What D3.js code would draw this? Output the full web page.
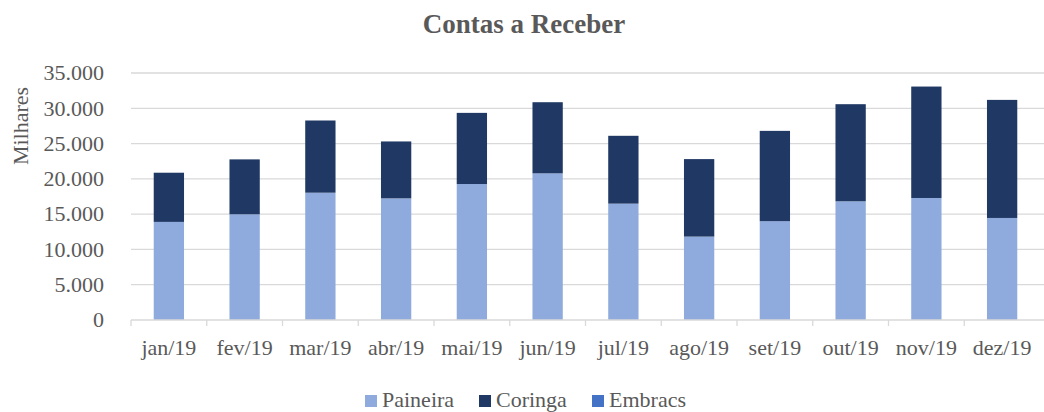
<!DOCTYPE html>
<html>
<head>
<meta charset="utf-8">
<script src="https://cdn.jsdelivr.net/npm/d3@7"></script>
<style>
  body { margin: 0; background: #fff; }
  text { font-family: "Liberation Serif", "DejaVu Serif", serif; fill: #595959; }
</style>
</head>
<body>
<script>
// data (thousands)
var months = ["jan/19", "fev/19", "mar/19", "abr/19", "mai/19", "jun/19",
              "jul/19", "ago/19", "set/19", "out/19", "nov/19", "dez/19"];
var paineira = [13900, 14980, 18040, 17240, 19270, 20780, 16490, 11820, 14000, 16820, 17290, 14460];
var coringa  = [6970, 7780, 10230, 8060, 10080, 10080, 9610, 10980, 12800, 13760, 15790, 16730];
var embracs  = [0, 0, 0, 0, 0, 0, 0, 0, 0, 0, 0, 0];
var yTicks = [0, 5000, 10000, 15000, 20000, 25000, 30000, 35000];

var seriesNames = ["Paineira", "Coringa", "Embracs"];
var colors = ["#8FAADC", "#1F3864", "#4472C4"];

var width = 1044, height = 412;
var margin = {top: 73, right: 4, bottom: 92, left: 131};
var innerW = width - margin.left - margin.right,
    innerH = height - margin.top - margin.bottom;

var table = months.map(function(m, i) {
  return {month: m, Paineira: paineira[i], Coringa: coringa[i], Embracs: embracs[i]};
});
var stacked = d3.stack().keys(seriesNames)(table);

var x = d3.scaleBand().domain(months).range([0, innerW]).paddingInner(0.6).paddingOuter(0.3);
var xTickScale = d3.scaleBand().domain(months).range([0, innerW]);
var y = d3.scaleLinear().domain([0, 35000]).range([innerH, 0]);

var svg = d3.select("body").append("svg")
    .attr("width", width)
    .attr("height", height);

// title
svg.append("text")
    .attr("x", 524).attr("y", 33)
    .attr("text-anchor", "middle")
    .style("font-size", "27px").style("font-weight", "bold")
    .text("Contas a Receber");

var g = svg.append("g")
    .attr("transform", "translate(" + margin.left + "," + margin.top + ")");

// gridlines
g.selectAll(".grid")
    .data(yTicks.slice(1))
  .enter().append("line")
    .attr("x1", 0).attr("x2", innerW + margin.right)
    .attr("y1", function(d) { return y(d); })
    .attr("y2", function(d) { return y(d); })
    .attr("stroke", "#D9D9D9").attr("stroke-width", 1.3);

// y axis labels
var fmt = d3.format(",.0f");
g.selectAll(".ylab")
    .data(yTicks)
  .enter().append("text")
    .attr("x", -27)
    .attr("y", function(d) { return y(d); })
    .attr("dy", "0.33em")
    .attr("text-anchor", "end")
    .style("font-size", "22px")
    .text(function(d) { return fmt(d).replace(/,/g, "."); });

svg.append("text")
    .attr("transform", "translate(28,126) rotate(-90)")
    .attr("text-anchor", "middle")
    .style("font-size", "22px")
    .text("Milhares");

// bars
g.selectAll(".series")
    .data(stacked)
  .enter().append("g")
    .attr("fill", function(d, i) { return colors[i]; })
  .selectAll("rect")
    .data(function(d) { return d; })
  .enter().append("rect")
    .attr("x", function(d) { return x(d.data.month); })
    .attr("width", x.bandwidth())
    .attr("y", function(d) { return y(d[1]); })
    .attr("height", function(d) { return y(d[0]) - y(d[1]); });

// x axis
var xAxis = g.append("g")
    .attr("transform", "translate(0," + innerH + ")");
xAxis.append("line")
    .attr("x1", 0).attr("x2", innerW + margin.right)
    .attr("stroke", "#D9D9D9").attr("stroke-width", 1.3);
xAxis.selectAll(".tick")
    .data(months)
  .enter().append("line")
    .attr("x1", function(d) { return xTickScale(d); })
    .attr("x2", function(d) { return xTickScale(d); })
    .attr("y1", 0).attr("y2", 6)
    .attr("stroke", "#D9D9D9").attr("stroke-width", 1.3);
xAxis.selectAll(".xlab")
    .data(months)
  .enter().append("text")
    .attr("x", function(d) { return xTickScale(d) + xTickScale.bandwidth() / 2; })
    .attr("y", 35)
    .attr("text-anchor", "middle")
    .style("font-size", "22px")
    .text(function(d) { return d; });

// legend
var legendX = [365, 479, 592];
var legend = svg.selectAll(".legend")
    .data(seriesNames)
  .enter().append("g")
    .attr("transform", function(d, i) { return "translate(" + legendX[i] + ",394)"; });
legend.append("rect")
    .attr("width", 12).attr("height", 12)
    .attr("y", 1)
    .attr("fill", function(d, i) { return colors[i]; });
legend.append("text")
    .attr("x", 17).attr("y", 13)
    .style("font-size", "22px")
    .text(function(d) { return d; });
</script>
</body>
</html>
